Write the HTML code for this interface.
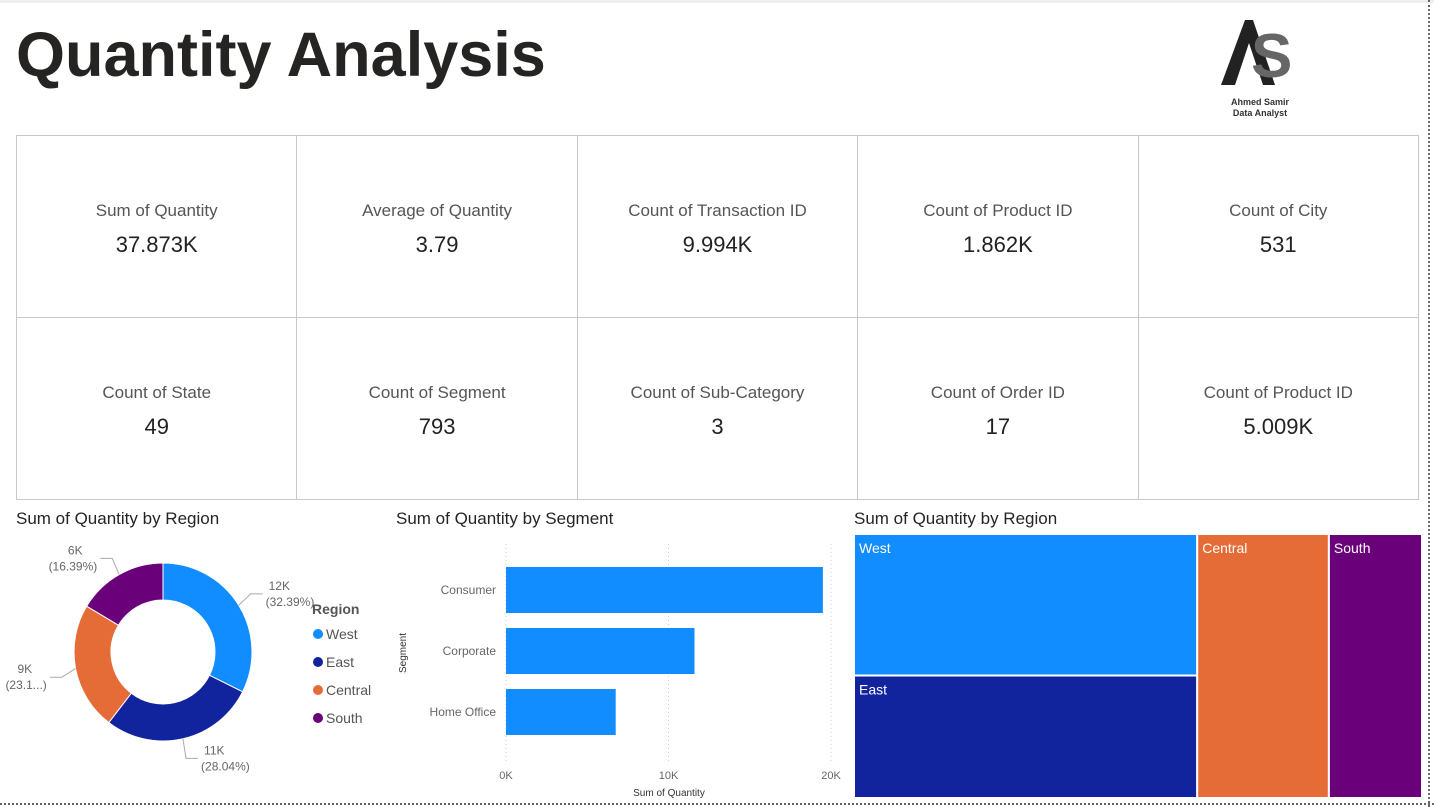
<!DOCTYPE html>
<html><head><meta charset="utf-8"><style>
body{margin:0;width:1434px;height:807px;background:#fff;font-family:"Liberation Sans","DejaVu Sans",sans-serif;position:relative;overflow:hidden}
.abs{position:absolute}
.kpi{position:absolute;border:1px solid #c8c8c8;box-sizing:border-box;text-align:center;color:#333}
.kpi .l{position:absolute;left:0;right:0;top:65px;font-size:17px;color:#555}
.kpi .v{position:absolute;left:0;right:0;top:96px;font-size:22px;color:#222}
.title{position:absolute;font-size:17px;color:#252423}
</style></head><body>
<div class="abs" style="left:0;top:0;width:1434px;height:3px;background:#eee"></div>
<div class="abs" style="left:1428px;top:0;width:0;height:807px;border-left:2px dotted #666"></div>
<div class="abs" style="left:0;top:803px;width:1434px;height:0;border-top:2px dotted #666"></div>
<div class="abs" style="left:16px;top:19px;font-size:63px;font-weight:bold;color:#252423">Quantity Analysis</div>
<div class="abs" style="left:1215px;top:15px;width:90px;height:105px">
<svg width="90" height="75"><path d="M6 70 L30 5 L38 5 L60 70 L48 70 L34 28 L20 70Z" fill="#222"/><text x="36" y="62" font-size="62" font-weight="bold" fill="#666" font-family="Liberation Sans">S</text></svg>
<div style="font-size:9px;font-weight:bold;text-align:center;color:#333;line-height:11px;margin-top:2px">Ahmed Samir<br>Data Analyst</div></div>
<div id="kpis"></div>
<div class="title" style="left:16px;top:509px">Sum of Quantity by Region</div>
<div class="title" style="left:396px;top:509px">Sum of Quantity by Segment</div>
<div class="title" style="left:854px;top:509px">Sum of Quantity by Region</div>
<svg id="donut" class="abs" style="left:0;top:530px" width="390" height="270"></svg>
<svg id="bar" class="abs" style="left:390px;top:530px" width="460" height="270"></svg>
<svg id="tree" class="abs" style="left:854px;top:534px" width="570" height="266"></svg>
<script>
const kpiLabels=["Sum of Quantity","Average of Quantity","Count of Transaction ID","Count of Product ID","Count of City","Count of State","Count of Segment","Count of Sub-Category","Count of Order ID","Count of Product ID"];
const kpiValues=["37.873K","3.79","9.994K","1.862K","531","49","793","3","17","5.009K"];
const regions=["West","East","Central","South"];
const regionValues=[12267,10618,8780,6208];
const regionColors=["#118dff","#12239e","#e66c37","#6b007b"];
const segments=["Consumer","Corporate","Home Office"];
const segmentValues=[19500,11600,6750];
const xTicks=[0,10000,20000];
const xTickLabels=["0K","10K","20K"];
const NS="http://www.w3.org/2000/svg";
function mk(p,t,a,txt){const e=document.createElementNS(NS,t);for(const k in a)e.setAttribute(k,a[k]);if(txt!==undefined)e.textContent=txt;p.appendChild(e);return e;}
const kp=document.getElementById('kpis');
kpiLabels.forEach((l,i)=>{const d=document.createElement('div');d.className='kpi';


const c=i%5,r=Math.floor(i/5);d.style.left=(16+c*280.4)+'px';d.style.top=(135+r*182)+'px';d.style.width='281.4px';d.style.height='183px';
d.innerHTML='<div class="l">'+l+'</div><div class="v">'+kpiValues[i]+'</div>';kp.appendChild(d);});
const dn=document.getElementById('donut');const cx=163,cy=122,R=89,r0=52;
const tot=regionValues.reduce((a,b)=>a+b,0);let ang=0;
regionValues.forEach((v,i)=>{const a0=ang,a1=ang+v/tot*2*Math.PI;ang=a1;
const p=(a,rr)=>[cx+rr*Math.sin(a),cy-rr*Math.cos(a)];const lg=a1-a0>Math.PI?1:0;
const [x0,y0]=p(a0,R),[x1,y1]=p(a1,R),[x2,y2]=p(a1,r0),[x3,y3]=p(a0,r0);
const s=mk(dn,'path',{d:`M${x0} ${y0}A${R} ${R} 0 ${lg} 1 ${x1} ${y1}L${x2} ${y2}A${r0} ${r0} 0 ${lg} 0 ${x3} ${y3}Z`,fill:regionColors[i],stroke:'#fff','stroke-width':1});


const m=(a0+a1)/2;const [ex,ey]=p(m,R);const [lx,ly0]=p(m,R+14);
const right=Math.sin(m)>0;const down=Math.cos(m)<0;const ly=ly0+(down?6:-4);
mk(dn,'polyline',{points:`${ex},${ey} ${lx},${ly} ${lx+(right?12:-12)},${ly}`,fill:'none',stroke:'#aaa'});
const pct=(i==2)?'(23.1...)':'('+(v/tot*100).toFixed(2)+'%)';
const tx=lx+(right?15:-15);
const t1=mk(dn,'text',{x:right?tx:tx-22,y:ly-4,'font-size':12,fill:'#666','text-anchor':right?'start':'middle'},Math.round(v/1000)+'K');
if(right)t1.setAttribute('x',tx+3);
mk(dn,'text',{x:tx,y:ly+12,'font-size':12,fill:'#666','text-anchor':right?'start':'end'},pct);
});
mk(dn,'text',{x:312,y:84,'font-size':14,'font-weight':'bold',fill:'#555'},'Region');
regions.forEach((g,i)=>{mk(dn,'circle',{cx:318,cy:104+i*28,r:5,fill:regionColors[i]});
const t=mk(dn,'text',{x:326,y:109+i*28,'font-size':14,fill:'#555'},g);

});
const br=document.getElementById('bar');const x0=116,x1=441;const xs=v=>x0+(v-xTicks[0])/(xTicks[2]-xTicks[0])*(x1-x0);
xTicks.forEach((t,i)=>{mk(br,'line',{x1:xs(t),x2:xs(t),y1:14,y2:232,stroke:'#ccc','stroke-dasharray':'1 3'});
mk(br,'text',{x:xs(t),y:249,'font-size':11,fill:'#666','text-anchor':'middle'},xTickLabels[i]);});
segments.forEach((s,i)=>{const y=37+i*61;const b=mk(br,'rect',{x:x0,y:y,width:xs(segmentValues[i])-x0,height:46,fill:'#118dff'});


mk(br,'text',{x:106,y:y+27,'font-size':12,fill:'#666','text-anchor':'end'},s);});
mk(br,'text',{x:279,y:266,'font-size':10,fill:'#333','text-anchor':'middle'},'Sum of Quantity');
mk(br,'text',{x:0,y:0,'font-size':10,fill:'#333','text-anchor':'middle',transform:'translate(16,123) rotate(-90)'},'Segment');
const tr=document.getElementById('tree');const W=568,H=264;
const leftW=(regionValues[0]+regionValues[1])/tot*W;
const hW=regionValues[0]/(regionValues[0]+regionValues[1])*H;
const cW=regionValues[2]/tot*W;
const rects=[[0,0,leftW,hW],[0,hW,leftW,H-hW],[leftW,0,cW,H],[leftW+cW,0,W-leftW-cW,H]];
rects.forEach((q,i)=>{const e=mk(tr,'rect',{x:q[0],y:q[1],width:q[2],height:q[3],fill:regionColors[i],stroke:'#fff','stroke-width':2});


mk(tr,'text',{x:q[0]+5,y:q[1]+19,'font-size':14,fill:'#fff'},regions[i]);});
</script>
</body></html>
